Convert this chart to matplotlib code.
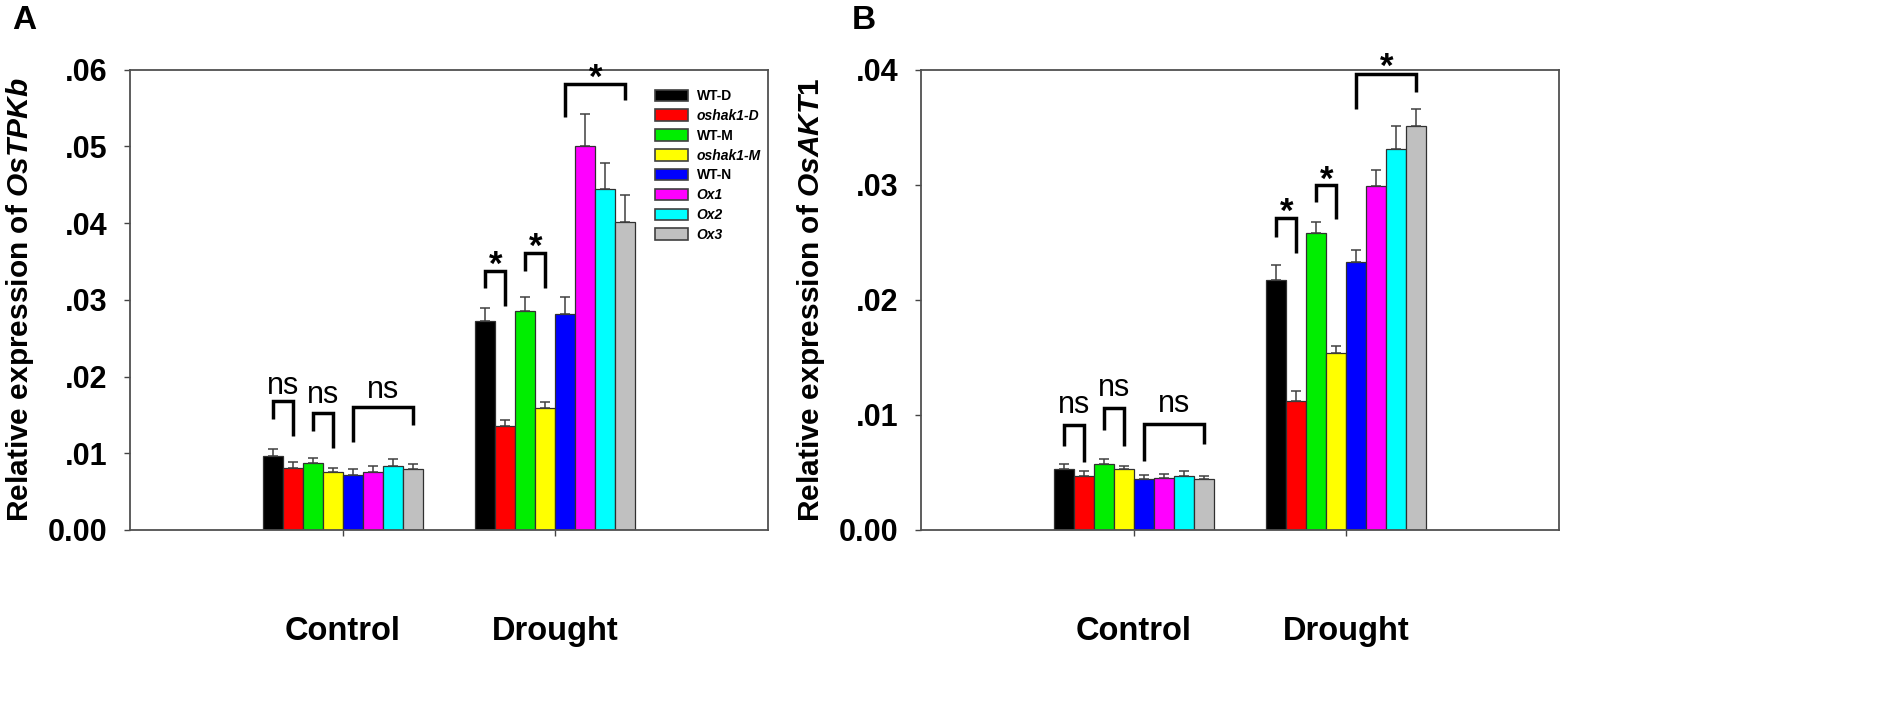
import matplotlib
matplotlib.use('Agg')
import matplotlib.pyplot as plt
import numpy as np

matplotlib.rcParams.update({'font.family': 'Liberation Sans', 'font.weight': 'bold',
                            'mathtext.fontset': 'custom',
                            'mathtext.rm': 'Liberation Sans:bold',
                            'mathtext.it': 'Liberation Sans:bold:italic'})

groups = ['Control', 'Drought']
lines = ['WT-D', 'oshak1-D', 'WT-M', 'oshak1-M', 'WT-N', 'Ox1', 'Ox2', 'Ox3']
italic = [False, True, False, True, False, True, True, True]
colors = ['#000000', '#ff0000', '#00ee00', '#ffff00', '#0000ff', '#ff00ff', '#00ffff', '#c0c0c0']

# panel A: OsTPKb
tpkb_ctrl = [0.0097, 0.0081, 0.0087, 0.0076, 0.0072, 0.0076, 0.0084, 0.0079]
tpkb_ctrl_err = [0.0009, 0.0008, 0.0007, 0.0005, 0.0007, 0.0008, 0.0009, 0.0007]
tpkb_dr = [0.0273, 0.0136, 0.0286, 0.0159, 0.0281, 0.0501, 0.0444, 0.0402]
tpkb_dr_err = [0.0017, 0.0007, 0.0018, 0.0008, 0.0023, 0.0042, 0.0034, 0.0035]

# panel B: OsAKT1
akt1_ctrl = [0.0053, 0.0047, 0.0057, 0.0053, 0.0044, 0.0045, 0.0047, 0.0044]
akt1_ctrl_err = [0.0004, 0.0004, 0.0005, 0.0003, 0.0004, 0.0004, 0.0004, 0.0003]
akt1_dr = [0.0217, 0.0112, 0.0258, 0.0154, 0.0233, 0.0299, 0.0331, 0.0351]
akt1_dr_err = [0.0013, 0.0009, 0.0010, 0.0006, 0.0010, 0.0014, 0.0020, 0.0015]

fig = plt.figure(figsize=(18.95, 7.27), dpi=100)
axA = fig.add_axes([0.0686, 0.271, 0.3367, 0.633])
axB = fig.add_axes([0.486, 0.271, 0.3367, 0.633])

bw = 0.094
offs = (np.arange(8) - 3.5) * bw
gx = np.array([1.0, 2.0])


def barpanel(ax, ctrl, ctrl_err, dr, dr_err, ymax, ylab):
    for i in range(8):
        xs = gx + offs[i]
        vals = [ctrl[i], dr[i]]
        errs = [ctrl_err[i], dr_err[i]]
        ax.bar(xs, vals, bw, color=colors[i], edgecolor='#303030', linewidth=0.9,
               label=lines[i], zorder=2)
        ax.errorbar(xs, vals, yerr=[[0, 0], errs], fmt='none', ecolor='#404040',
                    elinewidth=1.1, capsize=3.8, capthick=1.1, zorder=3)
    ax.set_xlim(0, 3)
    ax.set_ylim(0, ymax)
    ax.set_xticks(gx)
    ax.set_xticklabels(groups, fontsize=23.5, fontweight='bold')
    ax.tick_params(axis='x', length=4, pad=58, width=1, color='#444444')
    ax.tick_params(axis='y', length=4.5, width=1, labelsize=22, color='#444444', pad=12)
    for sp in ax.spines.values():
        sp.set_color('#505050')
        sp.set_linewidth(1.3)
    ax.set_ylabel(ylab, fontsize=21.5, fontweight='bold', labelpad=8)


def bracket(ax, i1, i2, g, top, lb, rb, txt, ytxt):
    x1 = gx[g] + offs[i1]
    x2 = gx[g] + offs[i2]
    ax.plot([x1, x1, x2, x2], [lb, top, top, rb], color='black', lw=2.5,
            solid_joinstyle='miter', solid_capstyle='butt', zorder=4, clip_on=False)
    if txt == 'ns':
        ax.annotate(txt, ((x1 + x2) / 2, ytxt), xytext=(0, -6), textcoords='offset points',
                    ha='center', va='baseline', fontsize=22, fontweight='normal',
                    annotation_clip=False)
    else:
        ax.annotate(txt, ((x1 + x2) / 2, ytxt), xytext=(0, -13.5), textcoords='offset points',
                    ha='center', va='baseline', fontsize=25, fontweight='bold',
                    annotation_clip=False)


barpanel(axA, tpkb_ctrl, tpkb_ctrl_err, tpkb_dr, tpkb_dr_err, 0.06,
         r'Relative expression of $\mathit{OsTPKb}$')
axA.set_yticks([0, 0.01, 0.02, 0.03, 0.04, 0.05, 0.06])
axA.set_yticklabels(['0.00', '.01', '.02', '.03', '.04', '.05', '.06'])

bracket(axA, 0, 1, 0, 0.0168, 0.0145, 0.0123, 'ns', 0.0188)
bracket(axA, 2, 3, 0, 0.0152, 0.0129, 0.0107, 'ns', 0.0176)
bracket(axA, 4, 7, 0, 0.0160, 0.0115, 0.0137, 'ns', 0.0183)
bracket(axA, 0, 1, 1, 0.0338, 0.0315, 0.0292, '*', 0.0357)
bracket(axA, 2, 3, 1, 0.0361, 0.0338, 0.0316, '*', 0.0381)
bracket(axA, 4, 7, 1, 0.0582, 0.0539, 0.0560, '*', 0.0601)

leg = axA.legend(loc='upper left', bbox_to_anchor=(0.823, 0.958), frameon=False,
                 fontsize=10, handlelength=2.4, handleheight=0.9, labelspacing=0.42,
                 handletextpad=0.6, borderaxespad=0, borderpad=0)
for t, it in zip(leg.get_texts(), italic):
    t.set_fontweight('bold')
    if it:
        t.set_fontstyle('italic')
for p in leg.get_patches():
    p.set_edgecolor('#404040')
    p.set_linewidth(1.2)

barpanel(axB, akt1_ctrl, akt1_ctrl_err, akt1_dr, akt1_dr_err, 0.04,
         r'Relative expression of $\mathit{OsAKT1}$')
axB.set_yticks([0, 0.01, 0.02, 0.03, 0.04])
axB.set_yticklabels(['0.00', '.01', '.02', '.03', '.04'])

bracket(axB, 0, 1, 0, 0.0091, 0.0073, 0.0059, 'ns', 0.0109)
bracket(axB, 2, 3, 0, 0.0106, 0.0087, 0.0073, 'ns', 0.0124)
bracket(axB, 4, 7, 0, 0.0092, 0.0060, 0.0075, 'ns', 0.0110)
bracket(axB, 0, 1, 1, 0.0271, 0.0255, 0.0241, '*', 0.0284)
bracket(axB, 2, 3, 1, 0.0300, 0.0285, 0.0270, '*', 0.0312)
bracket(axB, 4, 7, 1, 0.0396, 0.0366, 0.0381, '*', 0.0410)

fig.text(0.0063, 0.972, 'A', fontsize=24, fontweight='bold', va='center')
fig.text(0.4496, 0.972, 'B', fontsize=24, fontweight='bold', va='center')

plt.savefig('out.png', dpi=100)
